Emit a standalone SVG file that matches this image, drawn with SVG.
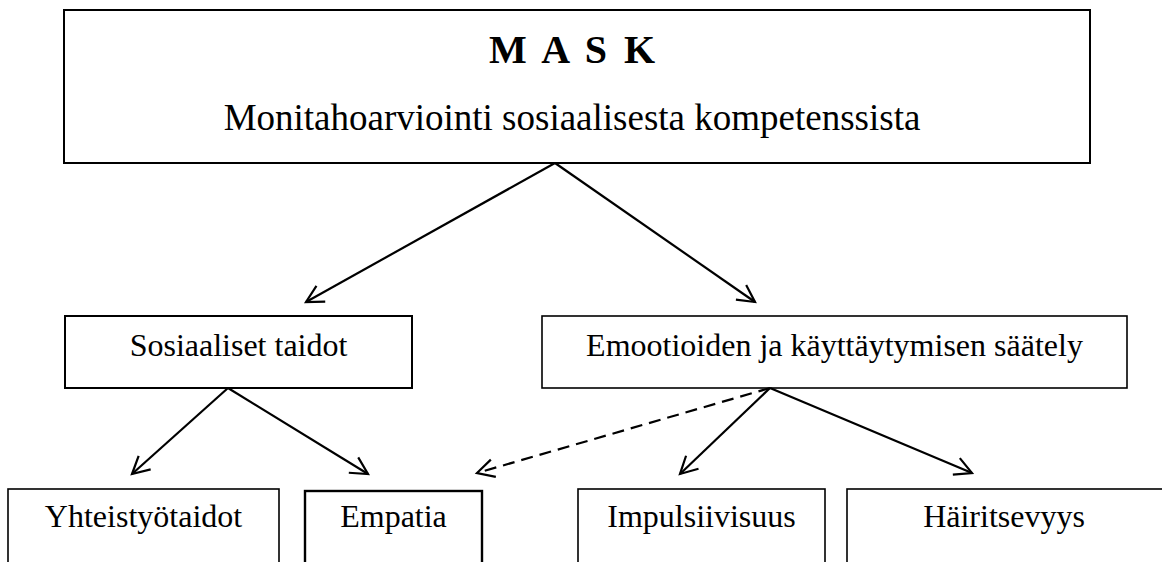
<svg xmlns="http://www.w3.org/2000/svg" width="1162" height="562" viewBox="0 0 1162 562">
<style>
.box{fill:#fff;stroke:#000;stroke-width:1.6}
.t{font-family:"Liberation Serif","Times New Roman",serif;font-size:32px;fill:#000;text-anchor:middle}
.c{fill:none;stroke:#000;stroke-width:2.2}
.d{stroke-dasharray:12,7}
</style>
<defs>
<marker id="ah" markerWidth="22" markerHeight="22" refX="19" refY="11" orient="auto" markerUnits="userSpaceOnUse">
<path d="M2,2 L19,11 L2,20" fill="none" stroke="#000" stroke-width="2.2"/>
</marker>
</defs>
<rect width="1162" height="562" fill="#fff"/>
<g id="mask">
<rect class="box" x="64" y="10" width="1026" height="153" style="stroke-width:2"/>
<text class="t" x="572" y="63" style="font-size:40px;font-weight:bold" textLength="166">M A S K</text>
<text class="t" x="572" y="130" style="font-size:37px">Monitahoarviointi sosiaalisesta kompetenssista</text>
</g>
<g id="sosiaaliset">
<rect class="box" x="65" y="316" width="347" height="72" style="stroke-width:2"/>
<text class="t" x="238.5" y="356">Sosiaaliset taidot</text>
</g>
<g id="emootioiden">
<rect class="box" x="542" y="316" width="585" height="72"/>
<text class="t" x="834.5" y="356">Emootioiden ja käyttäytymisen säätely</text>
</g>
<g id="yhteistyotaidot">
<rect class="box" x="8" y="489" width="271" height="100"/>
<text class="t" x="143.5" y="527">Yhteistyötaidot</text>
</g>
<g id="empatia">
<rect class="box" x="305" y="491" width="177" height="100" style="stroke-width:2.4"/>
<text class="t" x="393.5" y="527">Empatia</text>
</g>
<g id="impulsiivisuus">
<rect class="box" x="578" y="489" width="247" height="100"/>
<text class="t" x="701.5" y="527">Impulsiivisuus</text>
</g>
<g id="hairitsevyys">
<rect class="box" x="847" y="489" width="330" height="100"/>
<text class="t" x="1004" y="527">Häiritsevyys</text>
</g>
<g id="connectors">
<line class="c" x1="555" y1="163" x2="306" y2="302" marker-end="url(#ah)"/>
<line class="c" x1="555" y1="163" x2="755" y2="302" marker-end="url(#ah)"/>
<line class="c" x1="228" y1="388" x2="132" y2="474" marker-end="url(#ah)"/>
<line class="c" x1="228" y1="388" x2="368" y2="474" marker-end="url(#ah)"/>
<line class="c d" x1="770" y1="388" x2="477" y2="473" marker-end="url(#ah)"/>
<line class="c" x1="770" y1="388" x2="680" y2="474" marker-end="url(#ah)"/>
<line class="c" x1="770" y1="388" x2="972" y2="473" marker-end="url(#ah)"/>
</g>
</svg>
